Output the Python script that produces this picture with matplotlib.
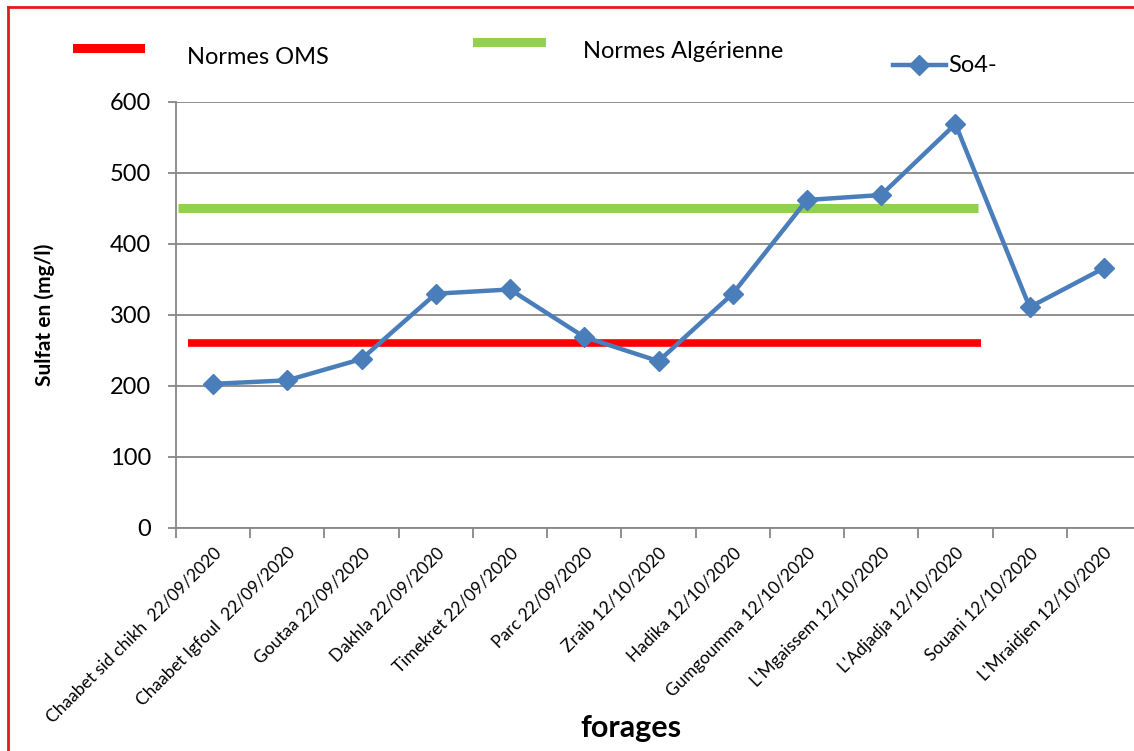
import matplotlib
matplotlib.use("Agg")

import matplotlib.pyplot as plt
from matplotlib.lines import Line2D

forages = [
    "Chaabet sid chikh  22/09/2020",
    "Chaabet Igfoul  22/09/2020",
    "Goutaa 22/09/2020",
    "Dakhla 22/09/2020",
    "Timekret 22/09/2020",
    "Parc 22/09/2020",
    "Zraib 12/10/2020",
    "Hadika 12/10/2020",
    "Gumgoumma 12/10/2020",
    "L'Mgaissem 12/10/2020",
    "L'Adjadja 12/10/2020",
    "Souani 12/10/2020",
    "L'Mraidjen 12/10/2020",
]
so4 = [203, 208, 238, 330, 336, 269, 235, 330, 462, 469, 569, 311, 366]

norme_oms = 260
norme_alg = 450

plt.rcParams["font.family"] = ["Lato", "DejaVu Sans"]

fig = plt.figure(figsize=(11.34, 7.51), dpi=100)
ax = fig.add_axes([176 / 1134, 1 - 528 / 751, (1141 - 176) / 1134, 426 / 751])

x = list(range(len(forages)))

ax.hlines(norme_alg, -0.47, 10.31, color="#92d050", linewidth=6.5, zorder=2)
ax.hlines(norme_oms, -0.34, 10.34, color="#ff0000", linewidth=5.5, zorder=2)
ax.plot(x, so4, color="#4a7ebb", linewidth=3.2, marker="D", markersize=10,
        zorder=3)

ax.set_xlim(-0.5, len(forages) - 0.5)
ax.set_ylim(0, 600)
ax.set_yticks(range(0, 601, 100))
ax.tick_params(axis="y", labelsize=17, length=6, color="#878787", width=1.3, pad=12)
ax.yaxis.grid(True, color="#878787", linewidth=1.3)
ax.set_axisbelow(True)

ax.set_xticks([i - 0.5 for i in x], minor=False)
ax.set_xticklabels([])
ax.set_xticks(x, minor=True)
ax.set_xticklabels(forages, minor=True, rotation=45, ha="right",
                   rotation_mode="anchor", fontsize=12.5)
ax.tick_params(axis="x", which="major", length=7, color="#878787", width=1.3)
ax.tick_params(axis="x", which="minor", length=0, pad=12)

for side in ["top", "right"]:
    ax.spines[side].set_visible(False)
ax.spines["left"].set_color("#878787")
ax.spines["left"].set_linewidth(1.3)
ax.spines["bottom"].set_color("#878787")
ax.spines["bottom"].set_linewidth(1.3)

ax.set_ylabel("Sulfat en (mg/l)", fontsize=15, fontweight="bold")
ax.yaxis.set_label_coords((55 - 176) / 965, 0.5)
fig.text(631 / 1134, 1 - 728 / 751, "forages", fontsize=22, fontweight="bold",
         ha="center", va="center")

# legend drawn by hand as in the original layout
fig.add_artist(Line2D([77 / 1134, 140 / 1134], [1 - 48 / 751] * 2,
                      color="#ff0000", linewidth=6.5))
fig.text(187 / 1134, 1 - 57 / 751, "Normes OMS", fontsize=17, va="center")
fig.add_artist(Line2D([477 / 1134, 541 / 1134], [1 - 42 / 751] * 2,
                      color="#92d050", linewidth=6.5))
fig.text(583 / 1134, 1 - 52 / 751, "Normes Algérienne", fontsize=17, va="center")
fig.add_artist(Line2D([893 / 1134, 946 / 1134], [1 - 65 / 751] * 2,
                      color="#4a7ebb", linewidth=3.2))
fig.add_artist(Line2D([919 / 1134], [1 - 65 / 751], color="#4a7ebb",
                      marker="D", markersize=10, linestyle="none"))
fig.text(948 / 1134, 1 - 65 / 751, "So4-", fontsize=17, va="center")

# red frame (left and top edges only visible)
fig.add_artist(Line2D([8 / 1134, 8 / 1134], [0, 1 - 7 / 751], color="#e31a1c",
                      linewidth=2))
fig.add_artist(Line2D([8 / 1134, 1], [1 - 7 / 751] * 2, color="#e31a1c",
                      linewidth=2))

fig.savefig("out.png", dpi=100)
